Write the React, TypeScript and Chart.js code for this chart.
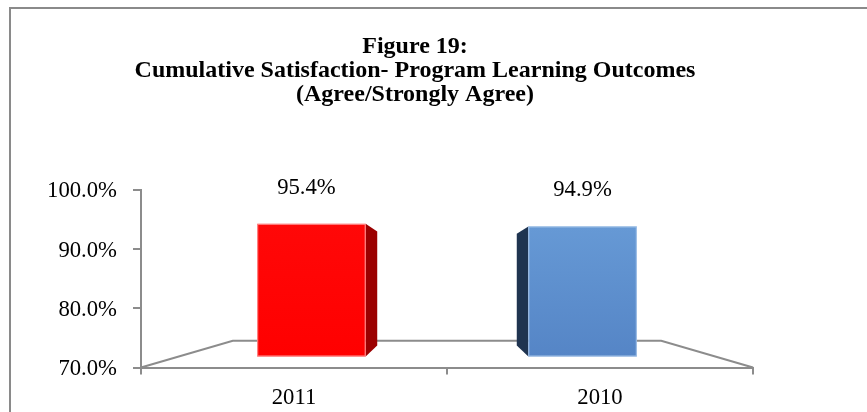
import { useEffect, useRef } from 'react';
import { Chart, registerables } from 'chart.js';

Chart.register(...registerables);

// ---- data ----
const categories = ['2011', '2010'];
const satisfaction = [95.4, 94.9];
const yMin = 70;
const yMax = 100;
const yStep = 10;
const titleLines = [
  'Figure 19:',
  'Cumulative Satisfaction- Program Learning Outcomes',
  '(Agree/Strongly Agree)',
];

// ---- styles ----
const frontTop = ['#FF0808', '#6699D5'];
const frontBottom = ['#FF0000', '#5585C6'];
const sideColors = ['#9B0000', '#1F3450'];
const edgeColors = ['rgba(255,160,160,0.9)', 'rgba(170,200,235,0.9)'];
const AXIS = '#8C8C8C';
const FONT = '"Liberation Serif", "Times New Roman", serif';

// perspective depths (fraction of distance to the plot centre)
const S_FRONT = 0.886;
const S_BACK = 0.76;
const S_FLOOR = 0.7;

const bar3d = {
  id: 'bar3d',
  beforeDatasetsDraw(chart: any) {
    const { ctx, chartArea: a } = chart;
    const cx = (a.left + a.right) / 2;
    const cy = (a.top + a.bottom) / 2;
    const P = (x: number, y: number, s: number) => [cx + (x - cx) * s, cy + (y - cy) * s];
    ctx.save();
    // floor
    ctx.strokeStyle = AXIS;
    ctx.lineWidth = 2;
    ctx.beginPath();
    ctx.moveTo(a.left, a.bottom);
    let p = P(a.left, a.bottom, S_FLOOR);
    ctx.lineTo(p[0], p[1]);
    p = P(a.right, a.bottom, S_FLOOR);
    ctx.lineTo(p[0], p[1]);
    ctx.lineTo(a.right, a.bottom);
    ctx.stroke();

    const meta = chart.getDatasetMeta(0);
    meta.data.forEach((el: any, i: number) => {
      const { x, y, base, width } = el.getProps(['x', 'y', 'base', 'width'], true);
      const l = x - width / 2;
      const r = x + width / 2;
      const inner = x < cx ? r : l;
      const s1 = P(inner, y, S_FRONT);
      const s2 = P(inner, y, S_BACK);
      const s3 = P(inner, base, S_BACK);
      const s4 = P(inner, base, S_FRONT);
      ctx.fillStyle = sideColors[i];
      ctx.beginPath();
      ctx.moveTo(s1[0], s1[1]);
      ctx.lineTo(s2[0], s2[1]);
      ctx.lineTo(s3[0], s3[1]);
      ctx.lineTo(s4[0], s4[1]);
      ctx.closePath();
      ctx.fill();

      const tl = P(l, y, S_FRONT);
      const br = P(r, base, S_FRONT);
      const g = ctx.createLinearGradient(0, tl[1], 0, br[1]);
      g.addColorStop(0, frontTop[i]);
      g.addColorStop(1, frontBottom[i]);
      ctx.fillStyle = g;
      ctx.fillRect(tl[0], tl[1], br[0] - tl[0], br[1] - tl[1]);
      ctx.strokeStyle = edgeColors[i];
      ctx.lineWidth = 1;
      ctx.strokeRect(tl[0] + 0.5, tl[1] + 0.5, br[0] - tl[0] - 1, br[1] - tl[1] - 1);

      ctx.fillStyle = '#000';
      ctx.font = `22.7px ${FONT}`;
      ctx.textAlign = 'center';
      ctx.textBaseline = 'alphabetic';
      ctx.fillText(satisfaction[i].toFixed(1) + '%', (tl[0] + br[0]) / 2 - (x < cx ? 5 : 0), tl[1] - 30);
    });
    ctx.restore();
    return false;
  },
};

export default function App() {
  const ref = useRef<HTMLCanvasElement>(null);
  useEffect(() => {
    if (!ref.current) return;
    const chart = new Chart(ref.current, {
      type: 'bar',
      data: {
        labels: categories,
        datasets: [
          {
            data: satisfaction,
            base: yMin,
            yAxisID: 'y',
            backgroundColor: frontBottom,
            categoryPercentage: 1,
            barPercentage: 0.4,
          },
        ],
      },
      options: {
        animation: false,
        responsive: false,
        devicePixelRatio: 1,
        layout: { padding: { left: 0, right: 0, top: 0, bottom: 0 } },
        plugins: {
          legend: { display: false },
          tooltip: { enabled: false },
          title: {
            display: true,
            text: titleLines,
            color: '#000',
            font: { family: FONT, size: 24, weight: 'bold', lineHeight: '24px' },
            padding: { top: 35, bottom: 82.5 },
          },
        },
        scales: {
          x: {
            offset: true,
            grid: { offset: true, drawOnChartArea: false, tickLength: 7, color: AXIS, lineWidth: 2 },
            border: { color: AXIS, width: 2 },
            ticks: { color: '#000', font: { family: FONT, size: 22.7 }, padding: 10 },
            afterFit: (s: any) => {
              s.height = 44.5;
            },
          },
          y: {
            min: yMin,
            max: yMax,
            ticks: {
              stepSize: yStep,
              callback: (v: any) => Number(v).toFixed(1) + '%',
              color: '#000',
              font: { family: FONT, size: 22.7 },
              padding: 16,
              labelOffset: 2,
            },
            grid: { drawOnChartArea: false, tickLength: 8, color: AXIS, lineWidth: 2 },
            border: { color: AXIS, width: 2 },
            afterFit: (s: any) => {
              s.width = 141;
            },
          },
          spacer: {
            type: 'linear',
            position: 'right',
            display: true,
            grid: { display: false },
            border: { display: false },
            ticks: { display: false },
            afterFit: (s: any) => {
              s.width = 77;
            },
          },
        },
      },
      plugins: [bar3d],
    } as any);
    return () => chart.destroy();
  }, []);

  return (
    <>
      <div
        style={{
          position: 'fixed',
          left: 9,
          top: 7,
          width: 2000,
          height: 2000,
          borderLeft: '2px solid #8A8A8A',
          borderTop: '2px solid #8A8A8A',
          boxSizing: 'border-box',
        }}
      />
      <canvas
        ref={ref}
        width={830}
        height={412}
        style={{ position: 'fixed', left: 0, top: 0, width: 830, height: 412 }}
      />
    </>
  );
}
